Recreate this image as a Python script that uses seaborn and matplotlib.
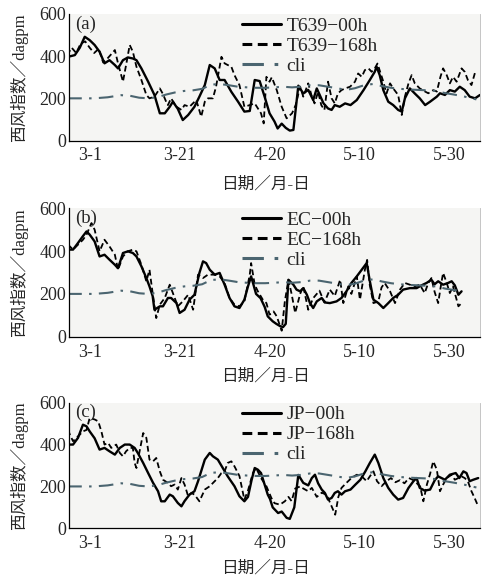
import numpy as np
import pandas as pd
import matplotlib
matplotlib.use("Agg")
import matplotlib.pyplot as plt
import seaborn as sns

# x = day index (0 -> "3-1"), values in dagpm
t639_00_x = [-4.8, -3.3, -2.2, -1.1, 0, 1.1, 2.2, 3.3, 4.4, 5.6, 6.3, 7.4, 8.5, 9.6, 10.4, 11.5, 13, 14.4, 15.6, 16.7,
             17.8, 18.5, 19.6, 20.7, 21.9, 23.3, 24.4, 25.6, 26.7, 27.8, 28.9, 30, 31.5, 33, 34.4, 35.6, 36.7, 37.8,
             38.9, 40, 41.1, 41.8, 42.7, 43.6, 44.5, 45.3, 46.4, 47.5, 48.6, 49.7, 50.5, 52, 53, 53.8, 54.5, 55.6,
             56.8, 58, 59.4, 60.9, 62.3, 63.4, 63.8, 64.5, 65.3, 66.4, 67.5, 68.6, 69.4, 70.1, 71.2, 72.3, 73.4,
             74.6, 75.7, 77.2, 77.9, 79, 80.1, 81.2, 82.3, 83.4, 84.5, 85.7, 86.8]
t639_00_y = [397, 405, 440, 492, 476, 453, 421, 366, 381, 358, 342, 381, 394, 389, 381, 342, 279, 216, 129, 129,
             160, 184, 150, 97, 121, 160, 208, 263, 358, 342, 287, 287, 231, 184, 137, 140, 287, 282,
             208, 129, 90, 57, 80, 60, 47, 50, 260, 223, 240, 192, 247, 176, 152, 145, 168, 160,
             176, 168, 192, 239, 287, 326, 350, 310, 239, 184, 168, 145, 137, 200, 247, 223, 200,
             168, 184, 208, 224, 216, 239, 232, 255, 239, 208, 200, 216]

t639_168_x = [-5, -4, -3, -2, -1, 0, 1, 2, 3, 4, 5.6, 6.3, 7.4, 8.2, 8.9, 9.6, 10.4, 11.5, 12.6, 13.3, 14.4, 15.6,
              16.3, 17, 17.4, 18.1, 19.3, 20.4, 21.1, 22.2, 23.7, 24.8, 25.6, 26.3, 27.4, 28.1, 29.3, 30, 30.7,
              31.5, 32.2, 33.3, 34.4, 35.6, 36.7, 38.1, 38.7, 39.3, 40, 40.5, 41.6, 42.7, 43.8, 45, 45.8, 46.8,
              47.5, 48.6, 49.3, 50, 50.8, 51.5, 52.2, 53, 53.8, 54.5, 55.2, 56, 56.8, 57.9, 59, 59.7, 60.5, 61.2,
              62, 62.7, 63.4, 64, 65.3, 66, 66.8, 67.5, 68.6, 69.4, 70.1, 70.9, 71.6, 72.3, 73.4, 74.6, 75.3,
              76.4, 77.2, 78, 78.6, 79.4, 80.1, 80.8, 81.6, 82.7, 83.4, 84.1, 84.9, 85.8]
t639_168_y = [405, 440, 415, 460, 470, 440, 415, 435, 370, 390, 429, 366, 279, 370, 453, 421, 350, 287, 216, 200, 208, 247,
              220, 184, 168, 200, 160, 145, 168, 160, 192, 113, 184, 200, 200, 255, 397, 366, 358,
              350, 310, 263, 160, 168, 176, 129, 81, 302, 279, 300, 239, 160, 105, 129, 168, 255,
              208, 271, 216, 176, 231, 168, 145, 279, 200, 176, 223, 239, 247, 255, 279, 318, 302, 334,
              342, 326, 342, 365, 279, 223, 271, 247, 216, 121, 208, 271, 310, 271, 247, 232, 224,
              239, 232, 302, 342, 310, 271, 302, 279, 342, 326, 287, 263, 330]

ec_00_x = [-4.8, -3.7, -2.6, -1.5, -0.7, 0, 1.1, 2.2, 3.3, 4.4, 5.6, 6.3, 7.4, 8.5, 9.6, 10.4, 11.5, 12.6, 13.3, 14,
           14.4, 15.6, 16.3, 17.4, 18.1, 19.3, 20, 21.1, 22.2, 23.3, 24.4, 25.2, 25.9, 26.7, 27.8, 28.9, 30, 31.1,
           32.2, 33.3, 34.4, 35.2, 35.9, 37, 38, 38.9, 39.6, 40.7, 41.5, 42.3, 43, 43.6, 44.2, 45.3, 46, 46.8,
           47.5, 48.3, 49, 49.7, 50.5, 51.6, 52.3, 53.4, 54.9, 56, 57.1, 58.2, 59.4, 60.5, 61.6, 62.3, 63.1,
           64.2, 65.3, 66.4, 67.5, 68.6, 69.7, 71.2, 72.7, 73.8, 74.9, 76, 76.7, 77.5, 78.6, 79.7, 80.5, 81.2,
           82, 82.7]
ec_00_y = [407, 407, 438, 470, 492, 477, 445, 375, 383, 360, 336, 320, 391, 399, 391, 375, 329, 274, 235, 190,
           126, 142, 142, 181, 181, 157, 111, 126, 173, 196, 298, 352, 344, 313, 290, 298, 243, 181,
           142, 134, 173, 235, 282, 200, 180, 140, 95, 72, 60, 50, 45, 60, 266, 243, 220, 212,
           227, 196, 157, 134, 165, 181, 160, 157, 165, 181, 212, 251, 282, 313, 344, 260, 173,
           157, 134, 157, 181, 196, 220, 227, 227, 240, 251, 266, 245, 259, 243, 251, 259, 240,
           196, 212]

ec_168_x = [-4.8, -3.7, -2.6, -1.5, -0.7, 0.4, 1.1, 2.2, 3.3, 4.4, 5.6, 6.3, 7.4, 8.5, 9.6, 10.4, 11.5, 12.6, 13.3,
            14, 14.8, 15.6, 16.7, 17.8, 18.5, 19.6, 20.7, 21.9, 23, 24.1, 25.2, 26.3, 27.8, 28.9, 30, 31.1, 32.2,
            33.3, 34.4, 35.6, 35.9, 36.7, 37.4, 38.5, 39.3, 40, 40.9, 41.6, 42.7, 43.4, 44.2, 44.9, 45.7, 46.8,
            47.5, 48.6, 49.7, 51.1, 52.2, 53.4, 54.5, 55.7, 56.4, 57.5, 58.2, 59.4, 60.1, 61.2, 61.7, 62.3, 63.1,
            64.2, 64.9, 65.6, 66.8, 67.9, 69, 70.1, 71.2, 72.3, 73.4, 74.5, 75.3, 76, 76.7, 77.5, 78.2, 78.6,
            79.4, 80.1, 80.8, 82, 82.7]
ec_168_y = [430, 407, 430, 453, 477, 531, 500, 399, 453, 422, 383, 313, 375, 399, 407, 399, 336, 259, 313,
            204, 87, 150, 181, 243, 204, 142, 165, 196, 126, 290, 274, 290, 290, 282, 251, 181, 150,
            142, 165, 290, 344, 243, 212, 173, 157, 103, 118, 95, 28, 165, 266, 200, 111, 200,
            235, 126, 180, 215, 160, 220, 190, 266, 157, 235, 200, 282, 173, 313, 359, 240, 157,
            165, 230, 251, 212, 157, 220, 251, 243, 235, 243, 204, 251, 274, 210, 157, 251, 298,
            251, 204, 235, 142, 157]

jp_00_x = [-4.8, -3.7, -2.6, -1.5, -0.7, 0, 1.1, 2.2, 3.3, 4.4, 5.6, 6.7, 7.8, 8.9, 10, 10.7, 11.9, 13, 14.1, 15.2,
           15.9, 16.7, 17.8, 18.5, 19.6, 20.4, 21.1, 22.2, 23.3, 24.1, 25.6, 26.7, 27.4, 28.5, 29.6, 30.7, 32.2,
           33.3, 34.4, 35.2, 36, 36.7, 37.4, 38.1, 38.9, 39.6, 40.1, 40.7, 41.9, 42.7, 43.8, 44.5, 45.5, 46.4,
           47.5, 48.6, 49.4, 50.1, 50.8, 51.6, 52.3, 53, 53.8, 54.5, 55.2, 56, 56.8, 58, 59.1, 60.2, 61.3, 62.3,
           63.4, 64.2, 65.3, 66.4, 67.5, 68.6, 69.7, 70.9, 72, 72.7, 73.4, 74.5, 75.7, 76.8, 77.5, 79, 80.1,
           81.4, 82.2, 83.1, 83.8, 84.5, 85.3, 86.4]
jp_00_y = [400, 400, 432, 495, 487, 463, 430, 376, 384, 368, 352, 384, 400, 400, 384, 360, 312, 264, 217, 177,
           129, 129, 161, 153, 121, 105, 130, 161, 177, 225, 328, 360, 344, 328, 288, 248, 201,
           153, 129, 150, 230, 288, 280, 264, 209, 161, 140, 100, 73, 80, 50, 45, 100, 255,
           217, 205, 240, 256, 215, 185, 169, 137, 145, 169, 177, 161, 177, 185, 209, 232, 272, 312,
           352, 312, 240, 193, 161, 137, 145, 193, 225, 240, 193, 180, 185, 232, 248, 232, 256,
           264, 240, 272, 264, 225, 232, 240]

jp_168_x = [-4.8, -4.4, -3.7, -2.6, -1.5, -0.7, 0, 1.1, 1.9, 2.6, 3.3, 4.1, 4.8, 5.9, 6.7, 7.4, 8.1, 8.9, 9.6, 10,
            10.4, 11.1, 11.9, 12.6, 13.3, 14.1, 14.8, 15.6, 16.3, 17.4, 18.1, 18.9, 19.6, 20.4, 21.1, 21.9, 22.6,
            23.3, 24.4, 25.6, 26.7, 27.8, 28.5, 29.3, 30, 30.7, 31.5, 32.2, 33.3, 34.4, 35.2, 36.3, 37, 38.1,
            39.3, 40.4, 41.1, 42.3, 43.4, 44.2, 44.9, 45.7, 46.8, 47.5, 48.6, 49.4, 50.5, 51.6, 52.7, 53.5, 54.6,
            55.3, 56, 57.1, 58.2, 59.4, 60.5, 61.6, 62.3, 63.1, 63.9, 64.9, 66, 67, 68, 69, 70, 71, 72, 73.5,
            74.2, 75, 75.7, 76.4, 77.2, 77.9, 78.6, 79.4, 80.5, 81.2, 82, 82.7, 83.4, 84.1, 84.9, 85.6, 86.4]
jp_168_y = [471, 447, 416, 439, 463, 470, 527, 520, 511, 463, 400, 408, 384, 400, 360, 344, 368, 384, 384, 312,
            288, 368, 455, 432, 328, 320, 336, 272, 232, 217, 201, 209, 185, 240, 209, 153, 169,
            161, 129, 185, 201, 225, 240, 264, 272, 312, 320, 296, 250, 137, 180, 264, 288, 240,
            201, 145, 120, 113, 129, 150, 130, 190, 200, 190, 177, 193, 150, 170, 160, 120, 65,
            150, 193, 217, 240, 256, 248, 225, 248, 272, 225, 201, 225, 240, 220, 230, 215, 240, 230, 200,
            129, 210, 260, 320, 280, 177, 209, 240, 256, 232, 240, 248, 240, 225, 177, 145, 105]

cli_x = [-5, -2, 1, 4, 7, 9, 11, 13, 15, 17, 19, 21, 23, 25, 27, 29, 31, 33, 35, 37, 39, 41, 43, 45, 47, 49, 51,
         53, 55, 57, 59, 61, 63, 65, 67, 69, 71, 73, 75, 77, 79, 81, 83, 85, 86]
cli_y = [200, 200, 200, 205, 215, 212, 203, 200, 205, 218, 228, 235, 238, 245, 265, 268, 262, 255, 252, 250, 250,
         252, 255, 252, 255, 262, 262, 255, 248, 240, 248, 262, 268, 258, 250, 245, 242, 240, 238, 235, 225,
         218, 210, 200, 195]

tick_days = [0, 20, 40, 60, 80]
tick_labels = ["3-1", "3-21", "4-20", "5-10", "5-30"]

panels = [
    ("(a)", "T639", t639_00_x, t639_00_y, t639_168_x, t639_168_y, 87),
    ("(b)", "EC", ec_00_x, ec_00_y, ec_168_x, ec_168_y, 83),
    ("(c)", "JP", jp_00_x, jp_00_y, jp_168_x, jp_168_y, 87),
]

sns.set_style("white")
plt.rcParams['font.family'] = ['Liberation Serif', 'Noto Sans CJK SC', 'DejaVu Sans']
plt.rcParams['axes.unicode_minus'] = True

W, H = 491, 580
fig = plt.figure(figsize=(W / 100, H / 100), dpi=100)
fig.patch.set_facecolor("white")

# axes boxes in pixels: left, right, top, bottom, x-label centre
boxes_px = [(69, 480, 14, 140.5, 185),
            (69, 480, 208.3, 336.7, 377),
            (69, 480, 402.7, 528.3, 569)]

cli_color = "#4b6570"

for (tag, name, x0, y0, x1, y1, xend), (l, r, t, b, lab_y) in zip(panels, boxes_px):
    ax = fig.add_axes((l / W, 1 - b / H, (r - l) / W, (b - t) / H))
    ax.set_facecolor("#f5f5f3")

    df0 = pd.DataFrame({"day": x0, "val": y0})
    df1 = pd.DataFrame({"day": x1, "val": y1})
    dfc = pd.DataFrame({"day": cli_x, "val": cli_y})
    dfc = dfc[dfc["day"] <= xend]

    sns.lineplot(data=df0, x="day", y="val", ax=ax, color="black", lw=1.7,
                 estimator=None, sort=False, label=f"{name}\u221200h")
    sns.lineplot(data=df1, x="day", y="val", ax=ax, color="black", lw=1.3,
                 estimator=None, sort=False, label=f"{name}\u2212168h")
    ax.lines[-1].set_dashes([3.2, 1.8])
    sns.lineplot(data=dfc, x="day", y="val", ax=ax, color=cli_color, lw=1.5,
                 estimator=None, sort=False, label="cli")
    ax.lines[-1].set_dashes([7, 3.5, 1.2, 3.5])

    ax.set_xlim(-4.6, 86.8)
    ax.set_ylim(0, 600)

    ax.set_xticks(tick_days)
    ax.set_xticklabels(tick_labels)
    if tag == "(b)":
        ax.set_xticks(np.arange(0, 86, 4.8), minor=True)
    else:
        ax.set_xticks(np.arange(5.2, 86, 10), minor=True)
    ax.set_yticks([0, 200, 400, 600])
    ax.set_yticks([100, 300, 500], minor=True)
    ax.tick_params(axis="x", which="major", length=0, pad=5, labelsize=13)
    ax.tick_params(axis="x", which="minor", direction="in", length=3, width=0.8)
    ax.tick_params(axis="y", which="both", direction="in", length=3, width=0.8, pad=2, labelsize=13)

    ax.spines["top"].set_visible(False)
    ax.spines["right"].set_color("#bbbbbb")
    ax.spines["right"].set_linewidth(0.6)
    for s in ["left", "bottom"]:
        ax.spines[s].set_color("black")
        ax.spines[s].set_linewidth(0.9)

    ax.set_ylabel("西风指数／dagpm", fontsize=12)
    ax.yaxis.set_label_coords(-0.10, 0.5)
    ax.set_xlabel("日期／月-日", fontsize=12)
    ax.xaxis.label.set_va("center")
    ax.xaxis.set_label_coords((265 - l) / (r - l), -(lab_y - b) / (b - t))

    ax.text(0.015, 0.99, tag, transform=ax.transAxes, ha="left", va="top", fontsize=13.5)

    leg = ax.legend(loc="upper left", bbox_to_anchor=(0.42, 0.975), frameon=False,
                    handlelength=2.0, handletextpad=0.3, labelspacing=0.12,
                    borderaxespad=0, borderpad=0, fontsize=14)
    for h in leg.get_lines():
        h.set_linewidth(2.2)

fig.savefig("out.png", dpi=100, facecolor="white")
